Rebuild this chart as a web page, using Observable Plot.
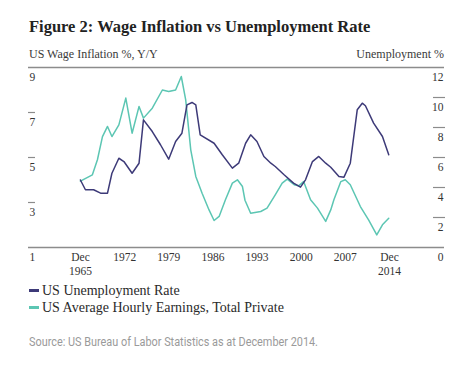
<!DOCTYPE html>
<html><head><meta charset="utf-8">
<script src="https://cdn.jsdelivr.net/npm/d3@7"></script>
<script src="https://cdn.jsdelivr.net/npm/@observablehq/plot@0.6"></script>
<style>
body{margin:0;background:#fff;width:468px;height:377px;position:relative;overflow:hidden;font-family:"Liberation Serif",serif;}
#title{position:absolute;left:29px;top:19px;font-weight:bold;font-size:16.5px;line-height:1;color:#222;white-space:nowrap;}
.sub{position:absolute;top:48px;font-size:12px;line-height:1;color:#3a3a3a;white-space:nowrap;}
#subL{left:29px}
#subR{right:24px}
#chart{position:absolute;left:0;top:60px}
.leg{position:absolute;left:29px;font-size:14px;line-height:15px;color:#2a2a2a;display:flex;align-items:center;white-space:nowrap}
.sw{display:inline-block;width:10px;height:3px;margin-right:3px}
#source{position:absolute;left:29px;top:336px;font-family:Roboto,sans-serif;font-size:12px;line-height:1;color:#9a9a9a;transform-origin:left center;white-space:nowrap}
</style></head>
<body>
<div id="title">Figure 2: Wage Inflation vs Unemployment Rate</div>
<div class="sub" id="subL">US Wage Inflation %, Y/Y</div>
<div class="sub" id="subR">Unemployment %</div>
<div id="chart"></div>
<div class="leg" style="top:283px"><span class="sw" style="background:#3d3a78"></span>US Unemployment Rate</div>
<div class="leg" style="top:300px"><span class="sw" style="background:#5cc6b3"></span>US Average Hourly Earnings, Total Private</div>
<div id="source">Source: US Bureau of Labor Statistics as at December 2014.</div>
<script>
// Wage inflation (% y/y), left axis
const wageYears = [1965.9,1967.8,1968.6,1969.4,1970.2,1970.9,1972.0,1973.1,1974.1,1975.2,1975.9,1977.3,1978.9,1979.9,1981.0,1981.9,1982.6,1983.4,1984.2,1985.2,1986.3,1987.1,1987.9,1988.9,1990.0,1990.8,1991.6,1992.0,1992.9,1994.5,1995.5,1996.8,1997.9,1998.7,1999.8,2000.5,2001.3,2002.4,2003.5,2004.8,2005.6,2006.1,2007.2,2007.9,2008.7,2010.3,2011.6,2012.9,2013.8,2014.8];
const wageValues = [3.95,4.23,4.9,5.93,6.38,5.93,6.45,7.64,6.08,7.27,6.75,7.19,8.0,7.93,8.0,8.6,7.56,5.34,4.16,3.41,2.67,2.2,2.38,3.12,3.86,4.01,3.71,3.1,2.52,2.6,2.75,3.34,3.86,4.04,3.79,3.74,3.93,3.12,2.75,2.16,2.67,3.12,3.93,4.01,3.79,2.82,2.23,1.56,2.01,2.3];
// Unemployment rate (%), right axis
const unempYears = [1965.9,1966.7,1968.0,1969.1,1970.2,1970.9,1972.0,1972.8,1974.1,1975.2,1975.9,1977.3,1978.6,1979.9,1981.0,1982.0,1982.8,1983.6,1984.2,1984.9,1987.1,1988.4,1990.0,1991.0,1992.1,1992.9,1993.9,1995.0,1996.1,1996.8,1998.2,1999.7,2000.8,2001.6,2002.7,2003.7,2004.8,2005.6,2006.9,2007.7,2008.7,2009.8,2010.6,2011.1,2012.4,2013.8,2014.8];
const unempValues = [4.5,3.85,3.85,3.62,3.62,4.95,5.95,5.73,4.95,5.62,8.51,7.73,6.85,5.89,7.07,7.62,9.51,9.67,9.51,7.51,6.95,6.18,5.29,5.62,6.95,7.51,7.07,6.07,5.62,5.4,4.85,4.29,4.02,4.51,5.73,6.07,5.62,5.35,4.73,4.69,5.62,9.18,9.62,9.45,8.29,7.4,6.18];
const leftTicks = [1,3,5,7,9];
const rightTicks = [0,2,4,6,8,10,12];
const xTickYears = [1965.92,1972.92,1979.92,1986.92,1993.92,2000.92,2007.92,2014.92];
const xTickLabels = ["Dec\n1965","1972","1979","1986","1993","2000","2007","Dec\n2014"];

const wage = wageYears.map((y,i)=>({year:y, value:wageValues[i]}));
const unemp = unempYears.map((y,i)=>({year:y, value:unempValues[i]}));
const toLeft = u => 1 + u*8/12;
const toRight = v => Math.round((v-1)*12/8);

const plot = Plot.plot({
  width:468, height:220, marginLeft:28, marginRight:24, marginTop:7, marginBottom:33,
  x:{domain:[1957.67,2023.64], axis:null},
  y:{domain:[1,9], axis:null},
  style:{fontFamily:"'Liberation Serif', serif", fontSize:"11.5px", color:"#333", background:"transparent", overflow:"visible"},
  marks:[
    Plot.ruleY([1,9], {stroke:"#8c8c8c", strokeWidth:1.5}),
    Plot.axisY({anchor:"left", label:null, ticks:[3,5,7], tickSize:-7, tickFormat:()=>"", stroke:"#8c8c8c", strokeWidth:1.2}),
    Plot.axisY({anchor:"right", label:null, ticks:[2,4,6,8,10].map(toLeft), tickSize:-12, tickFormat:()=>"", stroke:"#8c8c8c", strokeWidth:1.2}),
    Plot.axisY({anchor:"left", label:null, ticks:leftTicks, tickSize:0, tickPadding:0, textAnchor:"start", dx:1, dy:9.5, fill:"#333"}),
    Plot.axisY({anchor:"right", label:null, ticks:rightTicks.map(toLeft), tickFormat:toRight, tickSize:0, tickPadding:0, textAnchor:"end", dx:-1, dy:9.5, fill:"#333"}),
    Plot.axisX({label:null, ticks:xTickYears, tickFormat:d=>xTickLabels[xTickYears.indexOf(d)], tickSize:0, tickPadding:3, lineHeight:1.25, fill:"#333"}),
    Plot.line(wage, {x:"year", y:"value", stroke:"#5cc6b3", strokeWidth:1.5}),
    Plot.line(unemp, {x:"year", y:d=>toLeft(d.value), stroke:"#3d3a78", strokeWidth:1.5})
  ]
});
document.getElementById("chart").appendChild(plot);
const src = document.getElementById("source");
const w = src.getBoundingClientRect().width;
src.style.transform = `scaleX(${289/w})`;
</script>
</body></html>
